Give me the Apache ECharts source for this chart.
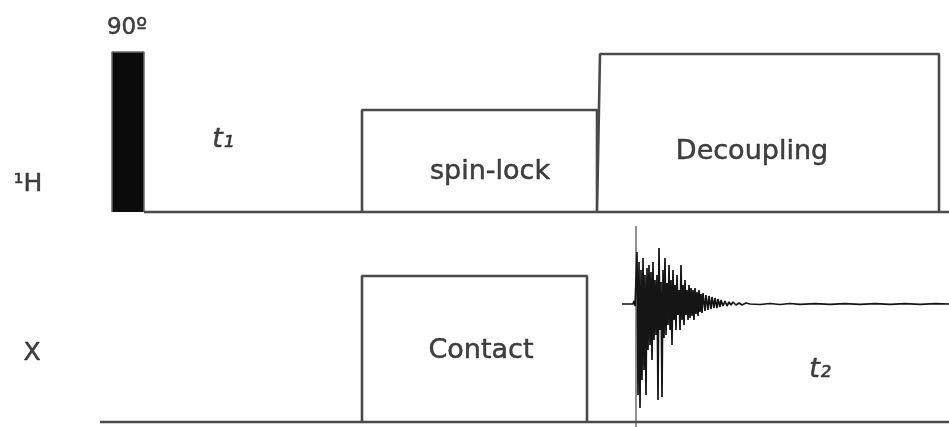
<!DOCTYPE html>
<html>
<head>
<meta charset="utf-8">
<title>CP pulse sequence</title>
<script src="https://cdn.jsdelivr.net/npm/echarts@6/dist/echarts.min.js"></script>
<style>
  html, body { margin: 0; padding: 0; background: #fff; }
  #chart { width: 949px; height: 427px; }
</style>
</head>
<body>
<div id="chart"></div>
<script>
// Cross-polarisation pulse sequence: time on x, RF amplitude on y (arbitrary units)

// 1H channel: 90° excitation pulse (filled)
const h90Pulse = [[112, 0], [112, 160], [144, 160], [144, 0]];

// 1H channel baseline
const hBaseline = [[144, 0], [949, 0]];

// 1H channel blocks: spin-lock, decoupling
const hChannel = [
  [362, 0], [362, 102], [597, 102], [597, 0],
  [600, 158], [939, 158], [939, 0]
];

// X channel baseline
const xBaseline = [[100, 0], [949, 0]];

// X channel block: contact pulse
const xChannel = [[362, 0], [362, 146], [587, 146], [587, 0]];

// Acquisition start marker
const acqMarker = [[636, 196], [636, -5]];

// Free induction decay on the X channel (time, amplitude)
const fid = [
  [622, 118], [633, 118], [634, 121], [635, 116], [636, 118],
  [637, 170], [638, 27], [639, 160], [640, 14], [641, 152], [642, 42],
  [643, 164], [644, 52], [645, 147], [646, 27], [647, 154], [648, 72],
  [649, 157], [650, 77], [651, 150], [652, 62], [653, 160], [654, 82],
  [655, 142], [656, 87], [657, 147], [658, 22], [659, 174], [660, 92],
  [661, 140], [662, 25], [663, 152], [664, 84], [665, 164], [666, 87],
  [667, 139], [668, 97], [669, 157], [670, 92], [671, 142], [672, 77],
  [673, 152], [674, 102], [675, 137], [676, 92], [677, 147], [678, 107],
  [679, 132], [680, 92], [681, 157], [682, 102], [683, 137], [684, 97],
  [685, 142], [686, 107], [687, 132], [688, 102], [689, 137], [690, 104],
  [691, 134], [692, 106], [693, 132], [694, 102], [695, 134], [696, 108],
  [697, 130], [698, 106], [699, 132], [700, 110], [701, 128], [702, 109],
  [703, 129], [705, 111], [706, 127], [708, 112], [709, 126], [711, 113],
  [712, 125], [714, 114], [715, 124], [717, 114], [718, 123], [720, 115],
  [721, 122], [723, 116], [725, 121], [727, 116], [729, 120], [731, 117],
  [733, 120], [736, 117], [739, 119], [742, 117], [746, 119], [750, 118],
  [760, 117.5], [770, 118.5], [780, 117.5], [790, 118.5], [800, 117.6],
  [815, 118.4], [830, 117.6], [845, 118.3], [860, 117.7], [875, 118.4],
  [890, 117.6], [905, 118.3], [920, 117.7], [935, 118.3], [949, 118]
];

// Annotations: [time, amplitude, text]
const hLabels = [
  [127, 184, '90º'],
  [223, 72, 't₁'],
  [28, 28, '¹H'],
  [490, 40, 'spin-lock'],
  [752, 60, 'Decoupling']
];
const xLabels = [
  [32, 69, 'X'],
  [481, 71, 'Contact'],
  [820, 52, 't₂']
];

const FONT = 'DejaVu Sans';
const lineColor = '#4a4a4a';
const textColor = '#111111';

function labelSize(text) {
  if (text === '90º') return 23;
  if (text === '¹H' || text === 'X') return 25;
  return 27;
}

function labelSeries(items, gridIdx) {
  return {
    type: 'scatter',
    xAxisIndex: gridIdx,
    yAxisIndex: gridIdx,
    symbolSize: 0,
    silent: true,
    z: 10,
    data: items.map(d => ({
      value: [d[0], d[1]],
      label: {
        show: true,
        position: 'inside',
        formatter: d[2],
        fontFamily: FONT,
        color: textColor,
        textBorderColor: textColor,
        textBorderWidth: 0.5,
        fontSize: labelSize(d[2]),
        fontStyle: d[2].startsWith('t') ? 'italic' : 'normal',
        align: 'center',
        verticalAlign: 'middle'
      }
    }))
  };
}

function lineSeries(data, gridIdx, color, width, extra) {
  return Object.assign({
    type: 'line',
    xAxisIndex: gridIdx,
    yAxisIndex: gridIdx,
    data: data,
    symbol: 'none',
    clip: false,
    silent: true,
    lineStyle: { color: color, width: width }
  }, extra || {});
}

const chart = echarts.init(document.getElementById('chart'), null, { renderer: 'canvas' });

const hiddenAxis = {
  show: false,
  splitLine: { show: false },
  axisLine: { show: false },
  axisTick: { show: false },
  axisLabel: { show: false }
};

chart.setOption({
  animation: false,
  backgroundColor: '#ffffff',
  grid: [
    { left: 0, right: 0, top: 0, height: 212 },
    { left: 0, right: 0, top: 222, height: 205 }
  ],
  xAxis: [
    Object.assign({ type: 'value', min: 0, max: 949, gridIndex: 0 }, hiddenAxis),
    Object.assign({ type: 'value', min: 0, max: 949, gridIndex: 1 }, hiddenAxis)
  ],
  yAxis: [
    Object.assign({ type: 'value', min: 0, max: 212, gridIndex: 0 }, hiddenAxis),
    Object.assign({ type: 'value', min: -5, max: 200, gridIndex: 1 }, hiddenAxis)
  ],
  series: [
    lineSeries(h90Pulse, 0, '#6a6a6a', 1.5, { areaStyle: { color: '#0b0b0b', opacity: 1 } }),
    lineSeries(hBaseline, 0, lineColor, 2.6),
    lineSeries(hChannel, 0, lineColor, 2.6),
    lineSeries(xBaseline, 1, lineColor, 2.6),
    lineSeries(xChannel, 1, lineColor, 2.6),
    lineSeries(acqMarker, 1, '#555', 1.3),
    lineSeries(fid, 1, '#151515', 1.7),
    labelSeries(hLabels, 0),
    labelSeries(xLabels, 1)
  ]
});
</script>
</body>
</html>
